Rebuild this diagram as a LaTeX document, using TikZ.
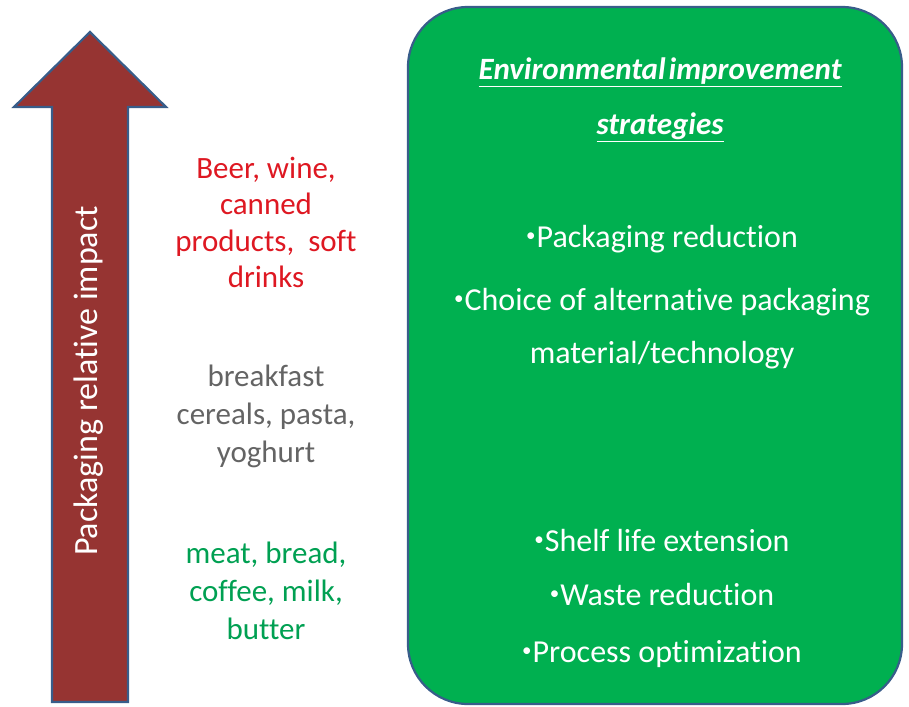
\documentclass[tikz,border=0pt]{standalone}
\usepackage{fontspec}
\setmainfont{Carlito}[Ligatures=CommonOff]
\definecolor{arrowred}{RGB}{150,52,50}
\definecolor{edgeblue}{RGB}{56,93,138}
\definecolor{boxgreen}{RGB}{0,176,80}
\definecolor{hired}{RGB}{222,24,34}
\definecolor{midgray}{RGB}{100,100,100}
\definecolor{logreen}{RGB}{0,160,82}
% small raised bullet in front of each strategy
\newcommand\smallbul{\raisebox{5.5pt}{\fontsize{19}{19}\selectfont\textbullet}\hspace{1pt}}
\begin{document}
\begin{tikzpicture}[x=1pt,y=-1pt,
  outline/.style={draw=edgeblue,line width=2.2pt,line join=miter},
  leftline/.style={anchor=base,inner sep=0pt,font=\fontsize{31}{37}\selectfont},
  boxline/.style={anchor=base,inner sep=0pt,text=white,font=\fontsize{32}{38}\selectfont},
  titleline/.style={anchor=base,inner sep=0pt,text=white,font=\fontsize{31}{37}\selectfont\bfseries\itshape}]
\useasboundingbox (0,0) rectangle (909,706);

% upward block arrow
\filldraw[outline,fill=arrowred]
  (90,32) -- (166,107) -- (128,107) -- (128,702) -- (52,702) -- (52,107) -- (14,107) -- cycle;
\node[rotate=90,text=white,font=\fontsize{34}{40}\selectfont,inner sep=0pt] (axis) at (89,381) {Packaging relative impact};

% product groups
\node[leftline,text=hired] (r1) at (266,178) {Beer, wine,};
\node[leftline,text=hired] (r2) at (266,214.5) {canned};
\node[leftline,text=hired] (r3) at (266,251) {products,\ \ soft};
\node[leftline,text=hired] (r4) at (266,287.5) {drinks};

\node[leftline,text=midgray] (g1) at (266,386) {breakfast};
\node[leftline,text=midgray] (g2) at (266,424) {cereals, pasta,};
\node[leftline,text=midgray] (g3) at (266,462) {yoghurt};

\node[leftline,text=logreen] (n1) at (266,563) {meat, bread,};
\node[leftline,text=logreen] (n2) at (266,601) {coffee, milk,};
\node[leftline,text=logreen] (n3) at (266,639) {butter};

% strategies panel
\node[outline,fill=boxgreen,rounded corners=60pt,minimum width=494pt,minimum height=697pt,inner sep=0pt] (panel) at (655,355.5) {};
\node[titleline] (t1) at (660,80) {\underline{Environmental\hspace{3pt}improvement}};
\node[titleline] (t2) at (660,135) {\underline{strategies}};

\node[boxline] (b1) at (662,247) {\smallbul Packaging reduction};
\node[boxline] (b2) at (662,310) {\smallbul Choice of alternative packaging};
\node[boxline] (b3) at (662,363) {material/technology};
\node[boxline] (b4) at (662,551) {\smallbul Shelf life extension};
\node[boxline] (b5) at (662,605) {\smallbul Waste reduction};
\node[boxline] (b6) at (662,662) {\smallbul Process optimization};
\end{tikzpicture}
\end{document}
